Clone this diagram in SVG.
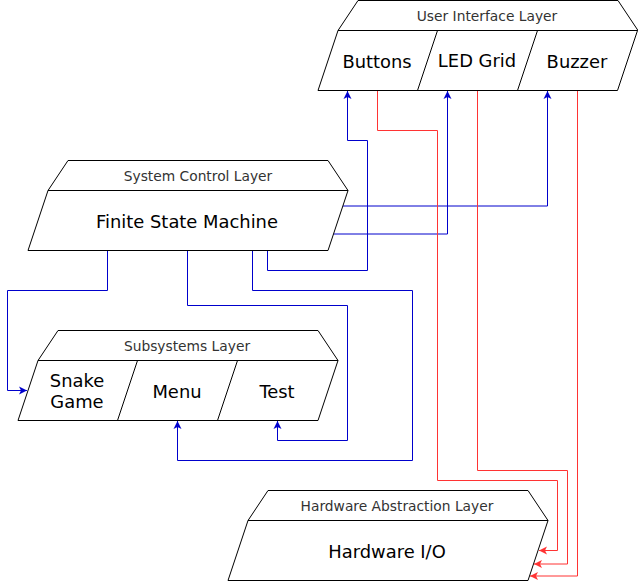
<svg xmlns="http://www.w3.org/2000/svg" width="638" height="586" viewBox="0 0 638 586">
<style>
.shape{fill:#fff;stroke:#000;stroke-width:1}
.div{fill:none;stroke:#000;stroke-width:1}
.hdr{font-family:"DejaVu Sans",Verdana,sans-serif;font-size:13.8px;fill:#333;text-anchor:middle}
.lbl{font-family:"DejaVu Sans",Verdana,sans-serif;font-size:17.9px;fill:#000;text-anchor:middle}
.blue{fill:none;stroke:#0000CC;stroke-width:1}
.red{fill:none;stroke:#FF3333;stroke-width:1}
</style>
<defs>
<marker id="ab" markerWidth="9" markerHeight="9" refX="8" refY="4.5" orient="auto" markerUnits="userSpaceOnUse">
<path d="M0,0.5 L8,4.5 L0,8.5 L2,4.5 Z" fill="#0000CC"/>
</marker>
<marker id="ar" markerWidth="9" markerHeight="9" refX="8" refY="4.5" orient="auto" markerUnits="userSpaceOnUse">
<path d="M0,0.5 L8,4.5 L0,8.5 L2,4.5 Z" fill="#FF3333"/>
</marker>
</defs>
<rect width="638" height="586" fill="#fff"/>
<g id="connectors">
<path class="blue" d="M107.5,250 V290.5 H7.5 V390.5 H27" marker-end="url(#ab)"/>
<path class="blue" d="M187.5,250 V305.5 H347.5 V440.5 H277.5 V421" marker-end="url(#ab)"/>
<path class="blue" d="M252.5,250 V290.5 H412.5 V460.5 H177.5 V421" marker-end="url(#ab)"/>
<path class="blue" d="M267.5,250 V270.5 H367.5 V140.5 H347.5 V91" marker-end="url(#ab)"/>
<path class="blue" d="M333.3,234 H447.5 V91" marker-end="url(#ab)"/>
<path class="blue" d="M342.7,206 H547.5 V91" marker-end="url(#ab)"/>
<path class="red" d="M377.5,90 V130.5 H437.5 V480.5 H557.5 V550.5 H539" marker-end="url(#ar)"/>
<path class="red" d="M477.5,90 V470.5 H567.5 V564 H534" marker-end="url(#ar)"/>
<path class="red" d="M577.5,90 V576 H530" marker-end="url(#ar)"/>
</g>
<g id="ui-layer">
<path class="shape" d="M358,0.5 H618 L638,30.5 H338 Z"/>
<path class="shape" d="M338,30.5 H637.5 L617.5,90.5 H318 Z"/>
<path class="div" d="M437.5,30.5 L417.5,90.5 M537.5,30.5 L517.5,90.5"/>
<text class="hdr" x="487" y="21">User Interface Layer</text>
</g>
<g id="buttons"><text class="lbl" x="377" y="68">Buttons</text></g>
<g id="led-grid"><text class="lbl" x="477" y="67">LED Grid</text></g>
<g id="buzzer"><text class="lbl" x="577" y="68">Buzzer</text></g>
<g id="system-control">
<path class="shape" d="M68,160.5 H328 L348,190.5 H48 Z"/>
<path class="shape" d="M48,190.5 H348 L328,250.5 H28 Z"/>
<text class="hdr" x="198" y="181">System Control Layer</text>
</g>
<g id="fsm"><text class="lbl" x="187" y="228">Finite State Machine</text></g>
<g id="subsystems">
<path class="shape" d="M58,330.5 H318 L338,360.5 H38 Z"/>
<path class="shape" d="M38,360.5 H338 L318,420.5 H18 Z"/>
<path class="div" d="M137.5,360.5 L117.5,420.5 M237.5,360.5 L217.5,420.5"/>
<text class="hdr" x="187" y="351">Subsystems Layer</text>
</g>
<g id="snake-game"><text class="lbl" x="77" y="387">Snake</text><text class="lbl" x="77" y="408">Game</text></g>
<g id="menu"><text class="lbl" x="177" y="398">Menu</text></g>
<g id="test"><text class="lbl" x="277" y="398">Test</text></g>
<g id="hal">
<path class="shape" d="M268,490.5 H528 L548,520.5 H248 Z"/>
<path class="shape" d="M248,520.5 H548 L528,580.5 H228 Z"/>
<text class="hdr" x="397" y="511">Hardware Abstraction Layer</text>
</g>
<g id="hardware-io"><text class="lbl" x="387" y="558">Hardware I/O</text></g>
</svg>
